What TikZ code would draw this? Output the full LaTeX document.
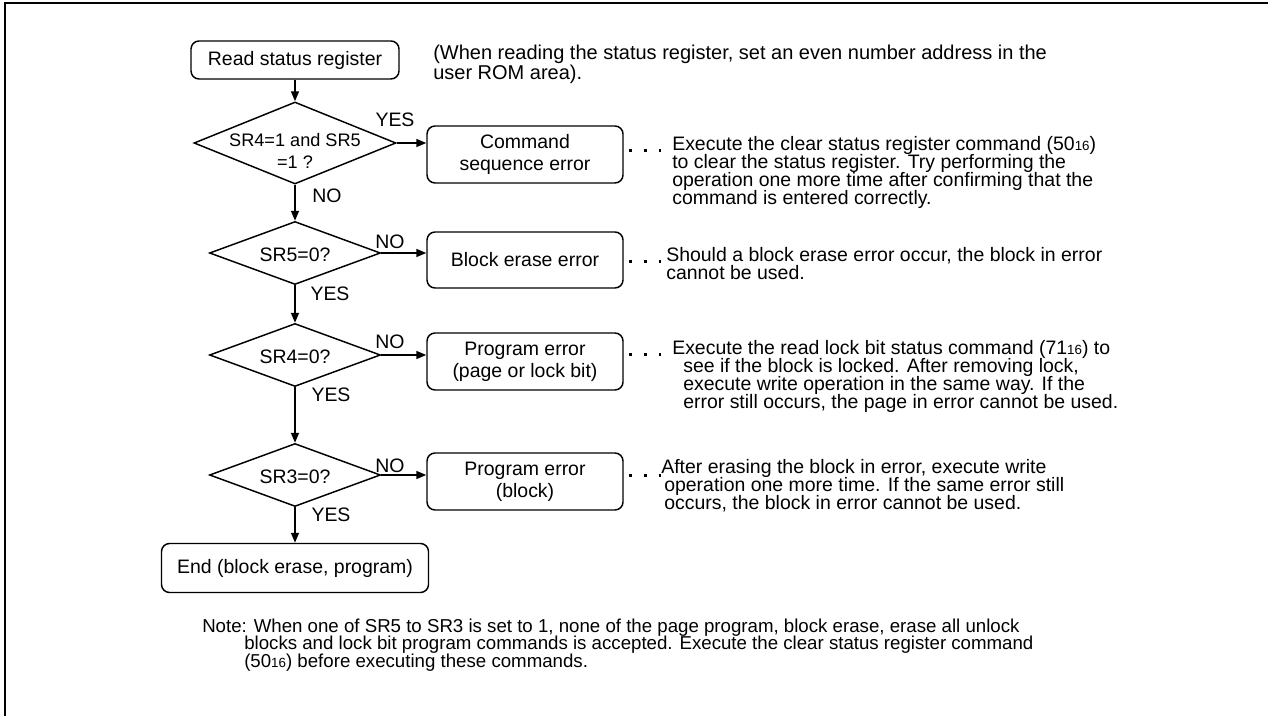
\documentclass[tikz,border=0pt]{standalone}
\usepackage{fontspec}
\setmainfont{Liberation Sans}
\usetikzlibrary{shapes.geometric,arrows.meta}
\newcommand{\sixteen}{{\fontsize{10pt}{10pt}\selectfont 16}}
\begin{document}
\begin{tikzpicture}[x=0.75pt,y=-0.75pt,
  every node/.style={font=\fontsize{14.6pt}{16.5pt}\selectfont},
  box/.style={draw, line width=1.1pt, rounded corners=6pt, align=center, inner sep=0pt},
  dia/.style={draw, diamond, aspect=2.5, line width=1.1pt, inner sep=0pt},
  arr/.style={line width=1.1pt, -{Triangle[length=7.5pt,width=6pt]}},
  dotl/.style={line width=2.25pt, dash pattern=on 2.25pt off 9pt},
  txt/.style={align=left, inner sep=0pt, anchor=base west, font=\fontsize{14.6pt}{13.7pt}\selectfont},
  lbl/.style={inner sep=0pt}]
\useasboundingbox (0,0) rectangle (1268,716);
\draw[line width=1.5pt] (5,716) -- (5,3) -- (1268,3);

% flow nodes
\node[box, minimum width=156pt, minimum height=28.5pt] (start) at (295,60) {Read status register};
\node[dia, minimum width=151.5pt, minimum height=61.5pt,
  label={[align=center, font=\fontsize{13.6pt}{17pt}\selectfont, yshift=-6pt]center:SR4=1 and SR5\\=1 ?}] (d1) at (295,143) {};
\node[dia, minimum width=128.25pt, minimum height=47.25pt, label={[yshift=-1pt]center:SR5=0?}] (d2) at (295,253) {};
\node[dia, minimum width=128.25pt, minimum height=47.25pt, label={[yshift=-1pt]center:SR4=0?}] (d3) at (295,355) {};
\node[dia, minimum width=128.25pt, minimum height=47.25pt, label={[yshift=-1pt]center:SR3=0?}] (d4) at (295,475) {};
\node[box, minimum width=200.25pt, minimum height=36.75pt] (end) at (295,568) {End (block erase, program)};

\node[box, minimum width=147pt, minimum height=42.75pt] (b1) at (525,154.5) {Command\\sequence error};
\node[box, minimum width=147pt, minimum height=42pt] (b2) at (525,260) {Block erase error};
\node[box, minimum width=147pt, minimum height=42.75pt] (b3) at (525,361.5) {Program error\\(page or lock bit)};
\node[box, minimum width=147pt, minimum height=42.75pt] (b4) at (525,481.5) {Program error\\(block)};

% vertical arrows
\draw[arr] (start) -- (d1);
\draw[arr] (d1) -- (d2);
\draw[arr] (d2) -- (d3);
\draw[arr] (d3) -- (d4);
\draw[arr] (d4) -- (end);

% horizontal arrows
\draw[arr] (d1.east) -- (d1.east -| b1.west);
\draw[arr] (d2.east) -- (d2.east -| b2.west);
\draw[arr] (d3.east) -- (d3.east -| b3.west);
\draw[arr] (d4.east) -- (d4.east -| b4.west);

% labels
\node[lbl] at (395,120) {YES};
\node[lbl] at (327,196) {NO};
\node[lbl] at (390,242) {NO};
\node[lbl] at (330,294) {YES};
\node[lbl] at (390,342) {NO};
\node[lbl] at (331,395) {YES};
\node[lbl] at (390,466) {NO};
\node[lbl] at (331,515) {YES};

% dotted leaders
\coordinate (c1) at (661,150.7);
\coordinate (c2) at (661,261.7);
\coordinate (c3) at (661,355);
\coordinate (c4) at (661,476);
\draw[dotl] (b1.east |- c1) ++(3.75pt,0) -- (c1);
\draw[dotl] (b2.east |- c2) ++(3.75pt,0) -- (c2);
\draw[dotl] (b3.east |- c3) ++(3.75pt,0) -- (c3);
\draw[dotl] (b4.east |- c4) ++(3.75pt,0) -- (c4);

% texts (anchor base = baseline of last line)
\node[txt, font=\fontsize{15pt}{13.7pt}\selectfont] (t0) at (433,79.3) {(When reading the status register, set an even number address in the\\user ROM area).};
\node[txt] (t1) at (672,204.9) {Execute the clear status register command (50\sixteen)\\to clear the status register. Try performing the\\operation one more time after confirming that the\\command is entered correctly.};
\node[txt] (t2) at (666,279.3) {Should a block erase error occur, the block in error\\cannot be used.};
\node[txt] (t3) at (683,408.9) {\hspace*{-8.25pt}Execute the read lock bit status command (71\sixteen) to\\see if the block is locked. After removing lock,\\execute write operation in the same way. If the\\error still occurs, the page in error cannot be used.};
\node[txt] (t4) at (664,509.6) {\hspace*{-2.25pt}After erasing the block in error, execute write\\operation one more time. If the same error still\\occurs, the block in error cannot be used.};
\node[txt, font=\fontsize{14pt}{13.1pt}\selectfont] (note) at (244,667) {\hspace*{-31.5pt}Note: When one of SR5 to SR3 is set to 1, none of the page program, block erase, erase all unlock\\blocks and lock bit program commands is accepted. Execute the clear status register command\\(50\sixteen) before executing these commands.};
\end{tikzpicture}
\end{document}
